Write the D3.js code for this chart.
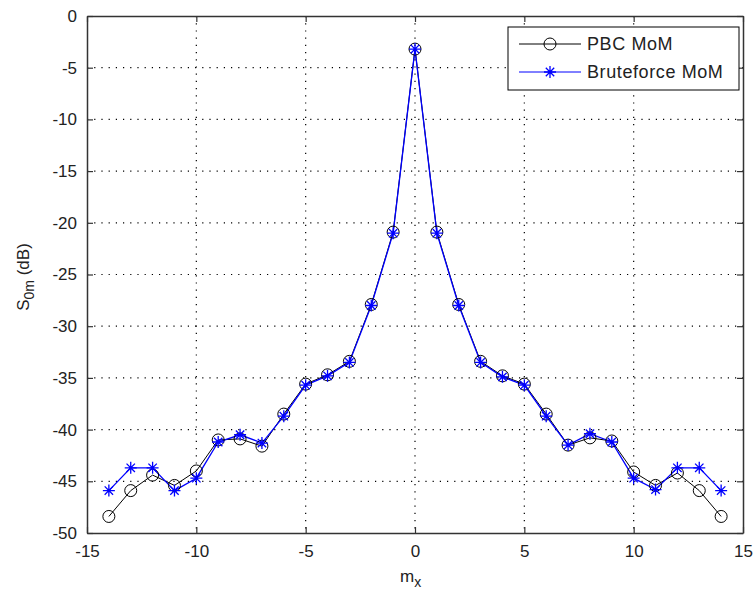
<!DOCTYPE html>
<html>
<head>
<meta charset="utf-8">
<script src="https://cdn.jsdelivr.net/npm/d3@7"></script>
<style>
  body { margin: 0; background: #fff; }
  svg text { font-family: "Liberation Sans", Arial, sans-serif; fill: #222; }
</style>
</head>
<body>
<svg id="chart" width="755" height="597"></svg>
<script>
// data
const mx = [-14,-13,-12,-11,-10,-9,-8,-7,-6,-5,-4,-3,-2,-1,0,1,2,3,4,5,6,7,8,9,10,11,12,13,14];
const pbc = [-48.4,-45.9,-44.4,-45.4,-44.0,-41.0,-40.9,-41.6,-38.5,-35.6,-34.7,-33.4,-27.9,-20.9,-3.2,
             -20.9,-27.9,-33.4,-34.8,-35.6,-38.5,-41.5,-40.8,-41.1,-44.1,-45.4,-44.2,-45.9,-48.4];
const brute = [-45.9,-43.7,-43.7,-45.9,-44.7,-41.2,-40.5,-41.3,-38.7,-35.7,-34.8,-33.5,-28.0,-21.0,-3.2,
               -21.0,-28.0,-33.5,-34.9,-35.7,-38.7,-41.5,-40.4,-41.2,-44.7,-45.8,-43.7,-43.7,-45.9];
const xTicks = [-15,-10,-5,0,5,10,15];
const yTicks = [0,-5,-10,-15,-20,-25,-30,-35,-40,-45,-50];

const svg = d3.select("#chart");
const m = {top:16, right:12, bottom:64, left:87};
const W = 755 - m.left - m.right, H = 597 - m.top - m.bottom;
const g = svg.append("g").attr("transform", `translate(${m.left},${m.top})`);

const x = d3.scaleLinear().domain([-15,15]).range([0,W]);
const y = d3.scaleLinear().domain([-50,0]).range([H,0]);
const fmt = d => String(d);   // plain hyphen minus, like the original

// grid
g.append("g").selectAll("line").data(xTicks.slice(1,-1)).join("line")
  .attr("x1", d=>x(d)).attr("x2", d=>x(d)).attr("y1",0).attr("y2",H)
  .attr("stroke","#000").attr("stroke-width",1.2).attr("stroke-dasharray","1.2,6");
g.append("g").selectAll("line").data(yTicks.slice(1,-1)).join("line")
  .attr("y1", d=>y(d)).attr("y2", d=>y(d)).attr("x1",0).attr("x2",W)
  .attr("stroke","#000").attr("stroke-width",1.2).attr("stroke-dasharray","1.2,6");

// axes (ticks inward, box)
const tick = 6;
const ax = g.append("g").attr("transform",`translate(0,${H})`)
  .call(d3.axisBottom(x).tickValues(xTicks).tickFormat(fmt).tickSizeInner(-tick).tickSizeOuter(0).tickPadding(12));
const axTop = g.append("g").call(d3.axisTop(x).tickValues(xTicks).tickSizeInner(-tick).tickSizeOuter(0).tickFormat(""));
const ay = g.append("g")
  .call(d3.axisLeft(y).tickValues(yTicks).tickFormat(fmt).tickSizeInner(-tick).tickSizeOuter(0).tickPadding(10));
const ayR = g.append("g").attr("transform",`translate(${W},0)`)
  .call(d3.axisRight(y).tickValues(yTicks).tickSizeInner(-tick).tickSizeOuter(0).tickFormat(""));
[ax, axTop, ay, ayR].forEach(a => {
  a.selectAll("path").attr("stroke","#333").attr("stroke-width",1.5);
  a.selectAll("line").attr("stroke","#333").attr("stroke-width",1.2);
  a.selectAll("text").style("font-size","17px").attr("fill","#222");
});

// series
const line = d3.line().x((d,i)=>x(mx[i])).y(d=>y(d));
g.append("path").datum(pbc).attr("d", line).attr("fill","none").attr("stroke","#000").attr("stroke-width",1);
g.append("path").datum(brute).attr("d", line).attr("fill","none").attr("stroke","#0000ff").attr("stroke-width",1.3);

const star = (sel, s) => sel.append("path")
  .attr("d", `M${-s},0H${s}M0,${-s}V${s}M${-s*0.7},${-s*0.7}L${s*0.7},${s*0.7}M${-s*0.7},${s*0.7}L${s*0.7},${-s*0.7}`)
  .attr("stroke","#0000ff").attr("stroke-width",1.3).attr("fill","none");

g.append("g").selectAll("circle").data(pbc).join("circle")
  .attr("cx",(d,i)=>x(mx[i])).attr("cy",d=>y(d)).attr("r",6)
  .attr("fill","none").attr("stroke","#000").attr("stroke-width",1);
g.append("g").selectAll("g").data(brute).join("g")
  .attr("transform",(d,i)=>`translate(${x(mx[i])},${y(d)})`)
  .each(function(){ star(d3.select(this), 6); });

// axis labels
const xl = svg.append("text").attr("x", 400).attr("y", 582).style("font-size","17px");
xl.append("tspan").text("m");
xl.append("tspan").attr("dy",5).style("font-size","14px").text("x");

const yl = svg.append("text").attr("transform","translate(29,277) rotate(-90)")
  .attr("text-anchor","middle").style("font-size","17px");
yl.append("tspan").text("S");
yl.append("tspan").attr("dy",5).style("font-size","14px").text("0m");
yl.append("tspan").attr("dy",-5).text(" (dB)");

// legend
const lg = svg.append("g").attr("transform","translate(508,27)");
lg.append("rect").attr("width",231).attr("height",63).attr("fill","#fff").attr("stroke","#000").attr("stroke-width",1);
const items = [{name:"PBC MoM", color:"#000", mk:"o"}, {name:"Bruteforce MoM", color:"#0000ff", mk:"*"}];
items.forEach((it, i) => {
  const row = lg.append("g").attr("transform",`translate(0,${17 + i*28})`);
  row.append("line").attr("x1",11).attr("x2",73).attr("stroke",it.color).attr("stroke-width",1);
  if (it.mk === "o") row.append("circle").attr("cx",42).attr("r",6).attr("fill","none").attr("stroke","#000");
  else star(row.append("g").attr("transform","translate(42,0)"), 6);
  row.append("text").attr("x",79).attr("dy","0.36em").style("font-size","18px")
    .style("letter-spacing","0.6px").text(it.name);
});
</script>
</body>
</html>
